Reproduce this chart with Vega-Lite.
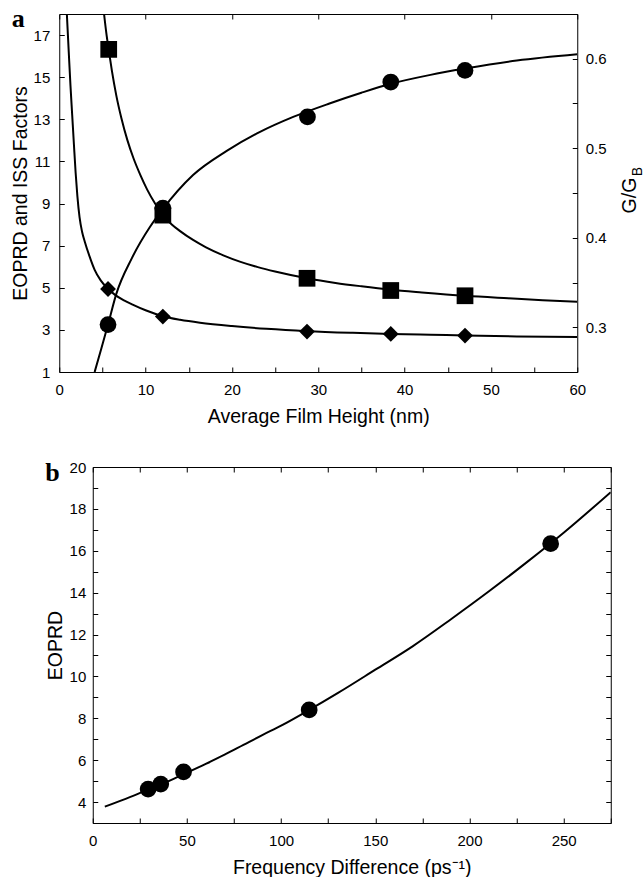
{
  "$schema": "https://vega.github.io/schema/vega-lite/v6.json",
  "background": "white",
  "padding": {"left": 10, "top": 5, "right": 0, "bottom": 0},
  "spacing": 33,
  "center": true,
  "config": {
    "view": {"stroke": null},
    "font": "Liberation Sans",
    "axis": {
      "domainColor": "black", "domainWidth": 1, "tickColor": "black", "tickWidth": 1, "tickSize": -5,
      "labelColor": "black", "labelFont": "Liberation Sans", "labelFontSize": 15,
      "titleFont": "Liberation Sans", "titleFontSize": 19.5, "titleFontWeight": "normal", "titleColor": "black",
      "grid": false, "labelOverlap": false, "labelFlush": false, "labelBound": false
    },
    "line": {"color": "black", "strokeWidth": 2, "interpolate": "monotone"},
    "point": {"filled": true, "color": "black", "opacity": 1, "size": 280}
  },
  "datasets": {
    "sq": [{"h": 5.73, "v": 16.32}, {"h": 12.0, "v": 8.45}, {"h": 28.7, "v": 5.45}, {"h": 38.4, "v": 4.87}, {"h": 47.0, "v": 4.62}],
    "dia": [{"h": 5.65, "v": 4.94}, {"h": 12.0, "v": 3.63}, {"h": 28.7, "v": 2.92}, {"h": 38.4, "v": 2.81}, {"h": 47.0, "v": 2.73}],
    "circ": [{"h": 5.65, "g": 0.303}, {"h": 12.0, "g": 0.433}, {"h": 28.75, "g": 0.535}, {"h": 38.4, "g": 0.574}, {"h": 47.0, "g": 0.587}],
    "sqCurve": [
      {"h": 5.19, "v": 18.0}, {"h": 5.45, "v": 17.1}, {"h": 5.73, "v": 16.3}, {"h": 6.1, "v": 15.3}, {"h": 6.6, "v": 14.15},
      {"h": 7.2, "v": 13.05}, {"h": 7.9, "v": 12.0}, {"h": 8.6, "v": 11.15}, {"h": 9.4, "v": 10.35}, {"h": 10.2, "v": 9.65},
      {"h": 11.1, "v": 9.0}, {"h": 12.0, "v": 8.45}, {"h": 13.0, "v": 8.02}, {"h": 14.0, "v": 7.69}, {"h": 15.5, "v": 7.27},
      {"h": 17.0, "v": 6.92}, {"h": 19.0, "v": 6.54}, {"h": 21.0, "v": 6.23}, {"h": 23.0, "v": 5.98}, {"h": 25.0, "v": 5.77},
      {"h": 28.7, "v": 5.45}, {"h": 32.0, "v": 5.23}, {"h": 35.0, "v": 5.07}, {"h": 38.4, "v": 4.91}, {"h": 42.0, "v": 4.78},
      {"h": 47.0, "v": 4.62}, {"h": 52.0, "v": 4.5}, {"h": 56.0, "v": 4.41}, {"h": 60.0, "v": 4.34}
    ],
    "diaCurve": [
      {"h": 0.88, "v": 18.0}, {"h": 1.1, "v": 16.2}, {"h": 1.3, "v": 14.6}, {"h": 1.5, "v": 13.2}, {"h": 1.7, "v": 11.8},
      {"h": 1.9, "v": 10.45}, {"h": 2.1, "v": 9.35}, {"h": 2.35, "v": 8.35}, {"h": 2.65, "v": 7.65}, {"h": 2.95, "v": 7.2},
      {"h": 3.5, "v": 6.5}, {"h": 4.1, "v": 5.85}, {"h": 4.8, "v": 5.35}, {"h": 5.65, "v": 4.95}, {"h": 6.5, "v": 4.65},
      {"h": 7.5, "v": 4.4}, {"h": 8.5, "v": 4.2}, {"h": 10.0, "v": 3.93}, {"h": 12.0, "v": 3.65}, {"h": 14.0, "v": 3.48},
      {"h": 16.3, "v": 3.34}, {"h": 20.0, "v": 3.18}, {"h": 24.0, "v": 3.05}, {"h": 28.7, "v": 2.94}, {"h": 34.0, "v": 2.86},
      {"h": 38.4, "v": 2.81}, {"h": 43.0, "v": 2.77}, {"h": 47.0, "v": 2.73}, {"h": 53.0, "v": 2.69}, {"h": 60.0, "v": 2.66}
    ],
    "circCurve": [
      {"h": 4.1, "g": 0.25}, {"h": 4.9, "g": 0.277}, {"h": 5.65, "g": 0.303}, {"h": 6.6, "g": 0.337}, {"h": 8.4, "g": 0.377},
      {"h": 10.5, "g": 0.412}, {"h": 12.0, "g": 0.432}, {"h": 15.5, "g": 0.47}, {"h": 19.4, "g": 0.497}, {"h": 23.2, "g": 0.518},
      {"h": 27.1, "g": 0.535}, {"h": 31.3, "g": 0.55}, {"h": 35.0, "g": 0.562}, {"h": 38.4, "g": 0.572}, {"h": 43.0, "g": 0.582},
      {"h": 47.0, "g": 0.589}, {"h": 53.0, "g": 0.598}, {"h": 60.0, "g": 0.605}
    ],
    "bPts": [{"f": 29.4, "e": 4.62}, {"f": 36.1, "e": 4.86}, {"f": 48.2, "e": 5.44}, {"f": 114.9, "e": 8.4}, {"f": 243.1, "e": 16.34}],
    "bCurve": [
      {"f": 6.4, "e": 3.78}, {"f": 20, "e": 4.25}, {"f": 29.4, "e": 4.6}, {"f": 40, "e": 4.99}, {"f": 50, "e": 5.4},
      {"f": 60, "e": 5.82}, {"f": 70, "e": 6.26}, {"f": 80, "e": 6.73}, {"f": 90, "e": 7.2}, {"f": 100, "e": 7.65},
      {"f": 114.9, "e": 8.4}, {"f": 130, "e": 9.2}, {"f": 150, "e": 10.32}, {"f": 170, "e": 11.45}, {"f": 190, "e": 12.72},
      {"f": 210, "e": 14.04}, {"f": 230, "e": 15.42}, {"f": 250, "e": 16.86}, {"f": 275, "e": 18.8}
    ]
  },
  "vconcat": [
    {
      "width": 518,
      "height": 358,
      "layer": [
        {
          "layer": [
            {
              "data": {"name": "sqCurve"},
              "mark": {"type": "line", "clip": true},
              "encoding": {
                "x": {"field": "h", "type": "quantitative", "scale": {"domain": [0, 60], "nice": false, "zero": false},
                  "axis": {"orient": "bottom", "values": [0, 5, 10, 15, 20, 25, 30, 35, 40, 45, 50, 55, 60],
                    "labelExpr": "datum.value % 10 == 0 ? datum.label : ''", "title": "Average Film Height (nm)", "labelPadding": 15, "titlePadding": 10}},
                "y": {"field": "v", "type": "quantitative", "scale": {"domain": [1, 18], "nice": false, "zero": false},
                  "axis": {"orient": "left", "values": [1, 2, 3, 4, 5, 6, 7, 8, 9, 10, 11, 12, 13, 14, 15, 16, 17, 18],
                    "labelExpr": "datum.value % 2 == 1 ? datum.label : ''", "title": "EOPRD and ISS Factors", "labelPadding": 14.5, "titlePadding": 3}}
              }
            },
            {
              "data": {"name": "diaCurve"},
              "mark": {"type": "line", "clip": true},
              "encoding": {
                "x": {"field": "h", "type": "quantitative", "scale": {"domain": [0, 60], "nice": false, "zero": false}},
                "y": {"field": "v", "type": "quantitative", "scale": {"domain": [1, 18], "nice": false, "zero": false}}
              }
            },
            {
              "data": {"name": "sq"},
              "mark": {"type": "point", "shape": "square", "size": 280},
              "encoding": {
                "x": {"field": "h", "type": "quantitative", "scale": {"domain": [0, 60], "nice": false, "zero": false}},
                "y": {"field": "v", "type": "quantitative", "scale": {"domain": [1, 18], "nice": false, "zero": false}}
              }
            },
            {
              "data": {"name": "dia"},
              "mark": {"type": "point", "shape": "diamond", "size": 250},
              "encoding": {
                "x": {"field": "h", "type": "quantitative", "scale": {"domain": [0, 60], "nice": false, "zero": false}},
                "y": {"field": "v", "type": "quantitative", "scale": {"domain": [1, 18], "nice": false, "zero": false}}
              }
            }
          ]
        },
        {
          "layer": [
            {
              "data": {"name": "circCurve"},
              "mark": {"type": "line", "clip": true},
              "encoding": {
                "x": {"field": "h", "type": "quantitative", "scale": {"domain": [0, 60], "nice": false, "zero": false}, "axis": null},
                "y": {"field": "g", "type": "quantitative", "scale": {"domain": [0.25, 0.65], "nice": false, "zero": false},
                  "axis": {"orient": "right", "values": [0.25, 0.3, 0.35, 0.4, 0.45, 0.5, 0.55, 0.6, 0.65],
                    "labelExpr": "round(datum.value * 100) % 10 == 0 ? format(datum.value, '.1f') : ''", "labelPadding": 13,
                    "title": "G/G", "titleAngle": 270, "titleX": 58, "titleY": 181, "titleAlign": "center", "titleBaseline": "alphabetic"}}
              }
            },
            {
              "data": {"name": "circ"},
              "mark": {"type": "point", "shape": "circle", "size": 280},
              "encoding": {
                "x": {"field": "h", "type": "quantitative", "scale": {"domain": [0, 60], "nice": false, "zero": false}, "axis": null},
                "y": {"field": "g", "type": "quantitative", "scale": {"domain": [0.25, 0.65], "nice": false, "zero": false},
                  "axis": {"orient": "right", "labels": false, "ticks": false, "domain": false,
                    "title": "B", "titleFontSize": 14, "titleAngle": 270, "titleX": 64.5, "titleY": 157, "titleAlign": "center", "titleBaseline": "alphabetic"}}
              }
            }
          ],
          "resolve": {"axis": {"y": "independent"}}
        },
        {
          "data": {"name": "sq"},
          "mark": {"type": "rule", "strokeOpacity": 0},
          "encoding": {
            "x": {"field": "h", "type": "quantitative", "scale": {"domain": [0, 60], "nice": false, "zero": false},
              "axis": {"orient": "top", "values": [0, 10, 20, 30, 40, 50, 60], "labels": false,
                "title": "a", "titleFont": "Liberation Serif", "titleFontSize": 26, "titleFontWeight": "bold",
                "titleAngle": 0, "titleX": -48, "titleY": 12, "titleAlign": "left", "titleBaseline": "alphabetic"}}
          }
        }
      ],
      "resolve": {"scale": {"y": "independent"}, "axis": {"x": "independent"}}
    },
    {
      "width": 518,
      "height": 356,
      "layer": [
        {
          "data": {"name": "bCurve"},
          "mark": {"type": "line", "clip": true},
          "encoding": {
            "x": {"field": "f", "type": "quantitative", "scale": {"domain": [0, 275], "nice": false, "zero": false},
              "axis": {"orient": "bottom", "values": [0, 25, 50, 75, 100, 125, 150, 175, 200, 225, 250, 275],
                "labelExpr": "datum.value % 50 == 0 ? datum.label : ''", "title": "Frequency Difference (ps⁻¹)", "labelPadding": 15, "titlePadding": 10}},
            "y": {"field": "e", "type": "quantitative", "scale": {"domain": [3, 20], "nice": false, "zero": false},
              "axis": {"orient": "left", "values": [3, 4, 5, 6, 7, 8, 9, 10, 11, 12, 13, 14, 15, 16, 17, 18, 19, 20],
                "labelExpr": "datum.value % 2 == 0 ? datum.label : ''", "title": "EOPRD", "labelPadding": 12, "titlePadding": 4}}
          }
        },
        {
          "data": {"name": "bPts"},
          "mark": {"type": "point", "shape": "circle", "size": 280},
          "encoding": {
            "x": {"field": "f", "type": "quantitative", "scale": {"domain": [0, 275], "nice": false, "zero": false},
              "axis": {"orient": "top", "values": [0, 25, 50, 75, 100, 125, 150, 175, 200, 225, 250, 275], "labels": false,
                "title": "b", "titleFont": "Liberation Serif", "titleFontSize": 26, "titleFontWeight": "bold",
                "titleAngle": 0, "titleX": -48, "titleY": 13.4, "titleAlign": "left", "titleBaseline": "alphabetic"}},
            "y": {"field": "e", "type": "quantitative", "scale": {"domain": [3, 20], "nice": false, "zero": false},
              "axis": {"orient": "right", "values": [3, 4, 5, 6, 7, 8, 9, 10, 11, 12, 13, 14, 15, 16, 17, 18, 19, 20], "labels": false, "title": null}}
          }
        }
      ],
      "resolve": {"axis": {"x": "independent", "y": "independent"}}
    }
  ]
}
